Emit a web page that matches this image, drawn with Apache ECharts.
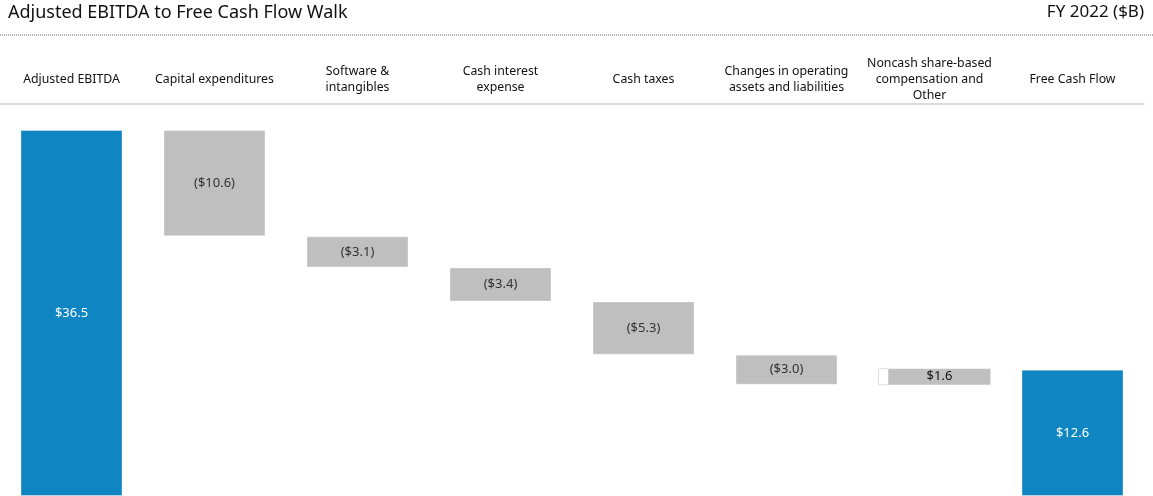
<!DOCTYPE html>
<html>
<head>
<meta charset="utf-8">
<script src="https://cdn.jsdelivr.net/npm/echarts@6/dist/echarts.min.js"></script>
<style>
  html, body { margin: 0; padding: 0; background: #fff; }
  #chart { width: 1153px; height: 496px; }
</style>
</head>
<body>
<div id="chart"></div>
<script>
// categories and values ($B)
var categories = [
    'Adjusted EBITDA',
    'Capital expenditures',
    'Software &\nintangibles',
    'Cash interest\nexpense',
    'Cash taxes',
    'Changes in operating\nassets and liabilities',
    'Noncash share-based\ncompensation and\nOther',
    'Free Cash Flow'
];
var values = [36.5, -10.6, -3.1, -3.4, -5.3, -3.0, 1.6, 12.6];
var labels = ['$36.5', '($10.6)', '($3.1)', '($3.4)', '($5.3)', '($3.0)', '$1.6', '$12.6'];
var isTotal = [true, false, false, false, false, false, false, true];
// the "Other" step is drawn on the slide with a small white stub on its left
var stubIndex = 6;

var BLUE = '#0f86c2';
var GREY = '#bfbfbf';
var FONT = '"Noto Sans", "Open Sans", sans-serif';

// build the invisible base + visible step for the walk
var base = [], step = [], stub = [];
var running = 0;
for (var i = 0; i < values.length; i++) {
    if (isTotal[i]) {
        base.push(0);
        step.push({ value: values[i], itemStyle: { color: BLUE }, label: { color: '#fff' } });
        running = values[i];
    } else {
        var next = running + values[i];
        var lo = Math.min(running, next);
        if (i === stubIndex) {
            base.push('-');
            step.push('-');
            stub.push([i, lo, lo + Math.abs(values[i])]);
        } else {
            base.push(lo);
            step.push({ value: Math.abs(values[i]), itemStyle: { color: GREY }, label: { color: '#333' } });
        }
        running = next;
    }
}

var chart = echarts.init(document.getElementById('chart'));
chart.setOption({
    animation: false,
    textStyle: { fontFamily: FONT },
    graphic: [
        { type: 'text', left: 8, top: 4, style: { text: 'Adjusted EBITDA to Free Cash Flow Walk', fontSize: 18, fontFamily: FONT, fill: '#111' } },
        { type: 'text', right: 9, top: 4, style: { text: 'FY 2022 ($B)', fontSize: 17, fontFamily: FONT, fill: '#111' } },
        { type: 'line', shape: { x1: 0, y1: 35, x2: 1153, y2: 35 }, style: { stroke: '#666', lineWidth: 1, lineDash: [1, 1] } }
    ],
    grid: { left: 0, right: 9, top: 104, bottom: 0 },
    xAxis: {
        type: 'category',
        position: 'top',
        data: categories,
        axisLine: { onZero: false, lineStyle: { color: '#d0d0d0', width: 1.5 } },
        axisTick: { show: false },
        axisLabel: {
            interval: 0,
            margin: 25,
            verticalAlign: 'middle',
            fontSize: 12.3,
            lineHeight: 16,
            color: '#111',
            fontFamily: FONT
        }
    },
    yAxis: { type: 'value', min: 0, max: 39.1, show: false, splitLine: { show: false } },
    series: [
        {
            type: 'bar', stack: 'walk', barWidth: 102,
            itemStyle: { color: 'transparent' },
            data: base, silent: true
        },
        {
            type: 'bar', stack: 'walk', barWidth: 102,
            data: step,
            itemStyle: { borderColor: 'rgba(255,255,255,0.35)', borderWidth: 1 },
            label: {
                show: true, position: 'inside', fontSize: 13, fontFamily: FONT,
                formatter: function (p) { return labels[p.dataIndex]; }
            }
        },
        {
            type: 'custom',
            data: stub,
            renderItem: function (params, api) {
                var idx = api.value(0);
                var top = api.coord([idx, api.value(2)]);
                var bot = api.coord([idx, api.value(1)]);
                var c = top[0];
                var h = bot[1] - top[1];
                return {
                    type: 'group',
                    children: [
                        { type: 'rect', shape: { x: c - 51, y: top[1], width: 10, height: h },
                          style: { fill: '#fff', stroke: '#e0e0e0', lineWidth: 1 } },
                        { type: 'rect', shape: { x: c - 41, y: top[1], width: 102, height: h },
                          style: { fill: GREY } },
                        { type: 'text', x: c + 10, y: top[1] + h / 2,
                          style: { text: labels[idx], fill: '#111', fontSize: 13, fontFamily: FONT,
                                   align: 'center', verticalAlign: 'middle' } }
                    ]
                };
            }
        }
    ]
});
</script>
</body>
</html>
